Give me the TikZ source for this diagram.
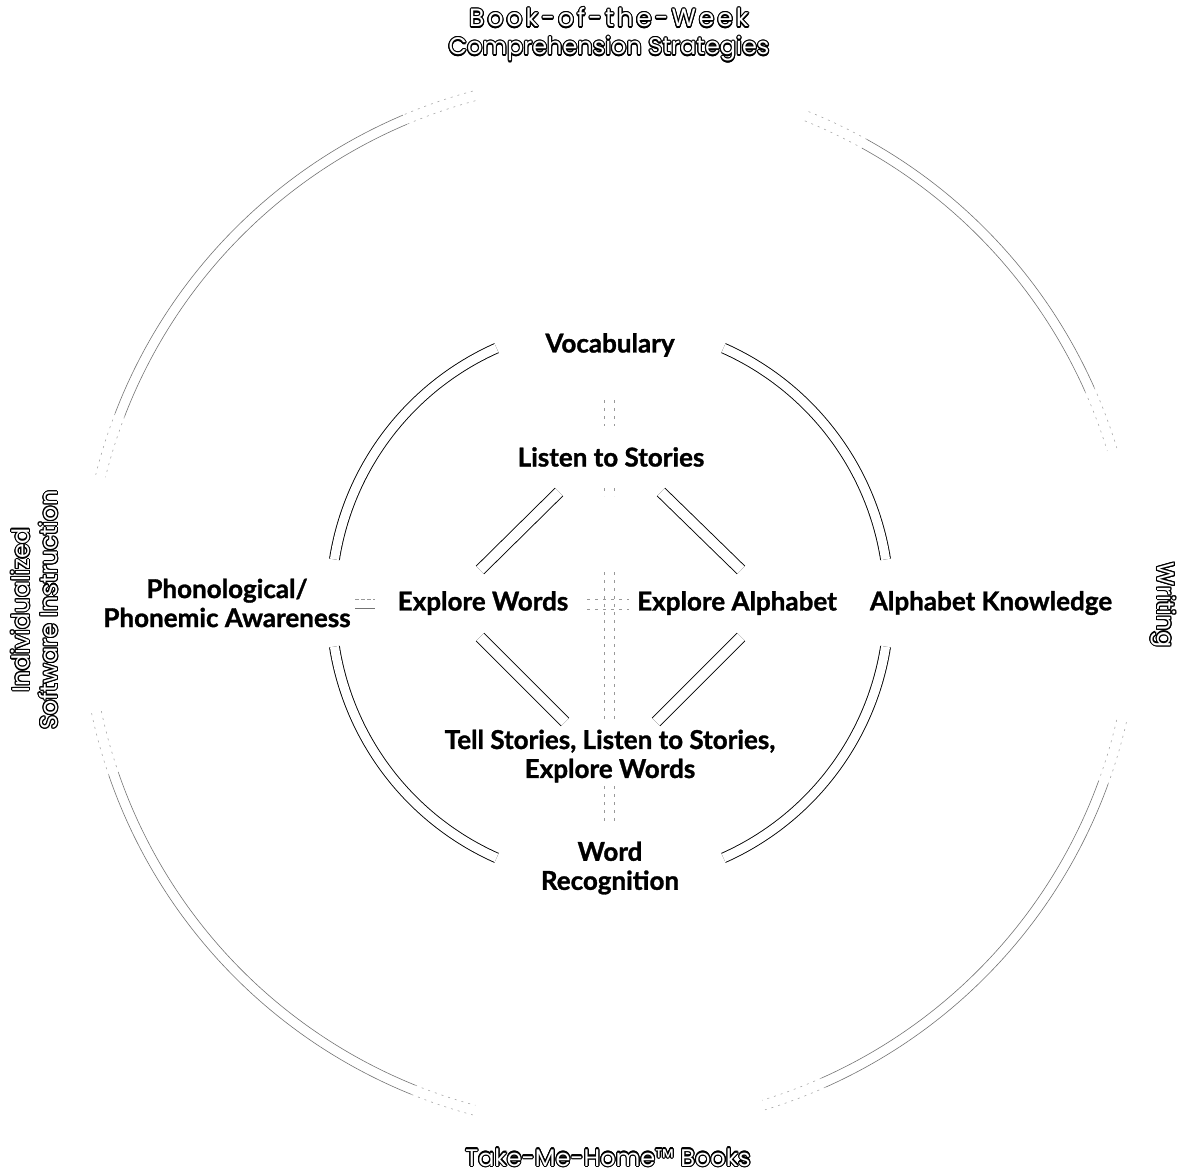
\documentclass[tikz,border=0pt]{standalone}
\usepackage{fontspec}
\setmainfont{Lato}[BoldFeatures={FakeBold=1.2}]
\newfontfamily\outerfont{Poppins}
\newfontfamily\outerwide{Poppins}[LetterSpace=12]
\usepackage{contour}
\contourlength{1.1pt}
\newcommand\outl[1]{\contour{black}{#1}}
\begin{document}
\begin{tikzpicture}[x=1pt,y=1pt,
  lbl/.style={font=\fontsize{26}{29}\selectfont\bfseries, inner sep=2pt},
  olbl/.style={font=\outerfont\fontsize{24}{28}\selectfont, text=white, inner sep=1pt},
  innerarc/.style={draw=black, line width=0.9pt, double=white, double distance=9pt},
  dia/.style={draw=black, line width=0.9pt, double=white, double distance=10pt},
  outerarc/.style={draw=black!55, line width=0.6pt},
  outerfade/.style={draw=black!35, line width=0.6pt, dash pattern=on 2pt off 5pt},
  cdash/.style={draw=black!40, line width=0.6pt, dash pattern=on 3pt off 5pt},
]
\useasboundingbox (0,0) rectangle (1191,-1174);
\coordinate (C) at (610,-603);

% ---------- outer circle (four double arcs, fading ends) ----------
\foreach \r in {520,530} {
  % upper right
  \draw[outerfade] ([shift={(68:\r)}]C) arc[start angle=68, end angle=61, radius=\r];
  \draw[outerarc]  ([shift={(61:\r)}]C) arc[start angle=61, end angle=24, radius=\r];
  \draw[outerfade] ([shift={(24:\r)}]C) arc[start angle=24, end angle=17, radius=\r];
  % lower right
  \draw[outerfade] ([shift={(-13:\r)}]C) arc[start angle=-13, end angle=-20, radius=\r];
  \draw[outerarc]  ([shift={(-20:\r)}]C) arc[start angle=-20, end angle=-66, radius=\r];
  \draw[outerfade] ([shift={(-66:\r)}]C) arc[start angle=-66, end angle=-73, radius=\r];
  % lower left
  \draw[outerfade] ([shift={(192:\r)}]C) arc[start angle=192, end angle=199, radius=\r];
  \draw[outerarc]  ([shift={(199:\r)}]C) arc[start angle=199, end angle=248, radius=\r];
  \draw[outerfade] ([shift={(248:\r)}]C) arc[start angle=248, end angle=255, radius=\r];
  % upper left
  \draw[outerfade] ([shift={(105:\r)}]C) arc[start angle=105, end angle=113, radius=\r];
  \draw[outerarc]  ([shift={(113:\r)}]C) arc[start angle=113, end angle=159, radius=\r];
  \draw[outerfade] ([shift={(159:\r)}]C) arc[start angle=159, end angle=166, radius=\r];
}

% ---------- inner circle (four arcs) ----------
\draw[innerarc] ([shift={(9:279)}]C) arc[start angle=9, end angle=66, radius=279];
\draw[innerarc] ([shift={(114:279)}]C) arc[start angle=114, end angle=171, radius=279];
\draw[innerarc] ([shift={(189:279)}]C) arc[start angle=189, end angle=246, radius=279];
\draw[innerarc] ([shift={(294:279)}]C) arc[start angle=294, end angle=351, radius=279];

% ---------- labels ----------
\node[lbl] (voc) at (610,-345) {Vocabulary};
\node[lbl] (lis) at (611,-457) {Listen to Stories};
\node[lbl, align=center] (pho) at (227,-603) {Phonological/\\Phonemic Awareness};
\node[lbl] (ew) at (483,-603) {Explore Words};
\node[lbl] (ea) at (737,-603) {Explore Alphabet};
\node[lbl] (ak) at (991,-603) {Alphabet Knowledge};
\node[lbl, align=center] (tell) at (610,-756) {Tell Stories, Listen to Stories,\\Explore Words};
\node[lbl, align=center] (wr) at (610,-868) {Word\\Recognition};

\node[olbl, anchor=base, font=\outerwide\fontsize{25}{28}\selectfont] (book1) at (609,-27) {\outl{Book-of-the-Week}};
\node[olbl, anchor=base] (book2) at (609,-55) {\outl{Comprehension Strategies}};
\node[olbl, anchor=base] (take) at (608,-1166) {\outl{Take-Me-Home™ Books}};
\node[olbl, rotate=90, align=center] (ind) at (35,-610) {\outl{Individualized}\\\outl{Software Instruction}};
\node[olbl, rotate=-90] (wri) at (1163,-605) {\outl{Writing}};

% ---------- diamond ----------
\coordinate (ulA) at (559,-492); \coordinate (ulB) at (480,-570);
\coordinate (urA) at (661,-492); \coordinate (urB) at (741,-570);
\coordinate (llA) at (480,-637); \coordinate (llB) at (565,-722);
\coordinate (lrA) at (741,-637); \coordinate (lrB) at (656,-722);
\draw[dia] (ulA) -- (ulB);
\draw[dia] (urA) -- (urB);
\draw[dia] (llA) -- (llB);
\draw[dia] (lrA) -- (lrB);

% ---------- faint centre axis ----------
\foreach \xx in {604,614} {
  \draw[cdash] (\xx,-400) -- (\xx,-426);
  \draw[cdash] (\xx,-488) -- (\xx,-496);
  \draw[cdash] (\xx,-572) -- (\xx,-720);
  \draw[cdash] (\xx,-786) -- (\xx,-822);
}
\foreach \yy in {-599,-609} {
  \draw[cdash] (587,\yy) -- (629,\yy);
}
\draw[draw=black!40, line width=0.6pt, dash pattern=on 4pt off 2pt] (355,-599) -- (375,-599);
\draw[draw=black!55, line width=0.6pt] (355,-608) -- (375,-608);
\end{tikzpicture}
\end{document}
